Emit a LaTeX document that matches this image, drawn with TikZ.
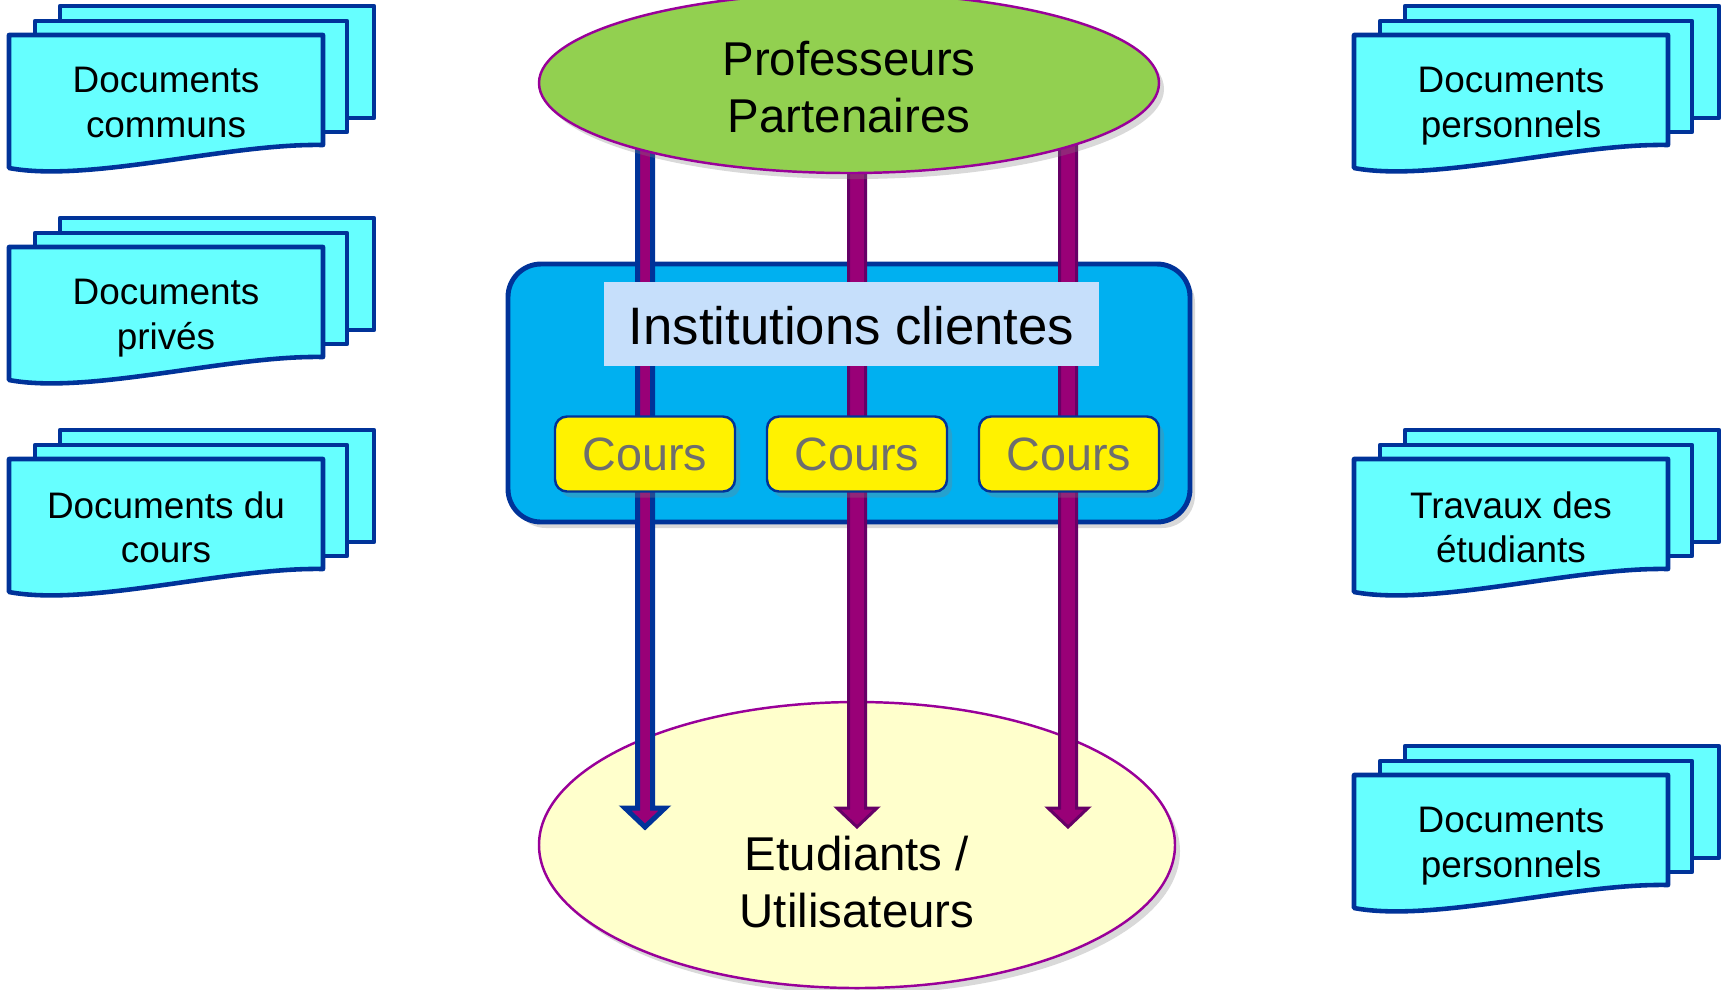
\documentclass[tikz,border=0pt]{standalone}
\usepackage{fontspec}
\setmainfont{Liberation Sans}
\usetikzlibrary{shapes.geometric,positioning,calc,shadows}

\definecolor{docfill}{HTML}{66FFFF}
\definecolor{bleufonce}{HTML}{003399}
\definecolor{vertprof}{HTML}{92D050}
\definecolor{bordviolet}{HTML}{990099}
\definecolor{bleuinst}{HTML}{00B0F0}
\definecolor{bleuclair}{HTML}{C6DFFB}
\definecolor{jauneclair}{HTML}{FFFFCC}
\definecolor{griscours}{HTML}{6E6E6E}
\definecolor{flechefill}{HTML}{990077}
\definecolor{flechebord}{HTML}{660066}

\tikzset{
  page/.style={draw=bleufonce, fill=docfill, line width=1.3pt, line join=round},
  doctext/.style={font=\fontsize{10.5}{12.6}\selectfont, align=center, anchor=north},
  ombre/.style={drop shadow={shadow xshift=0.05cm, shadow yshift=-0.06cm, opacity=0.3}},
  groupe/.style={ellipse, draw=bordviolet, line width=0.7pt, ombre, inner sep=0pt},
  grostexte/.style={font=\fontsize{13.5}{16.2}\selectfont, align=center},
  cours/.style={rectangle, rounded corners=0.12cm, draw=bleufonce, line width=0.7pt,
    fill=yellow, ombre, text=griscours, minimum width=1.80cm, minimum height=0.75cm,
    font=\fontsize{13.3}{16}\selectfont},
  fleche/.style={to path={($(\tikztostart)+(-#1,0)$) -- ($(\tikztotarget)+(-#1,0.19)$)
    -- ($(\tikztotarget)+(-0.2,0.19)$) -- (\tikztotarget) -- ($(\tikztotarget)+(0.2,0.19)$)
    -- ($(\tikztotarget)+(#1,0.19)$) -- ($(\tikztostart)+(#1,0)$) -- cycle}}
}

% pile de documents : nom, x, y (coin haut gauche de la page avant), texte
\newcommand{\pilesdoc}[4]{%
  \draw[page] (#2+0.51,#3+0.29) rectangle (#2+3.65,#3-0.83);
  \draw[page] (#2+0.26,#3+0.14) rectangle (#2+3.38,#3-0.97);
  \draw[page] (#2,#3) -- (#2+3.14,#3) -- (#2+3.14,#3-1.10)
    .. controls (#2+2.2,#3-1.08) and (#2+0.8,#3-1.48) .. (#2,#3-1.33) -- cycle;
  \node[doctext] (#1) at (#2+1.57,#3-0.20) {#4};
}

\begin{document}
\begin{tikzpicture}[node distance=2.12cm, on grid]
  \useasboundingbox (0,0) rectangle (17.29,-9.89);

  % documents
  \pilesdoc{communs}{0.09}{-0.35}{Documents\\communs}
  \pilesdoc{prives}{0.09}{-2.47}{Documents\\privés}
  \pilesdoc{docours}{0.09}{-4.59}{Documents du\\cours}
  \pilesdoc{perso1}{13.54}{-0.35}{Documents\\personnels}
  \pilesdoc{travaux}{13.54}{-4.59}{Travaux des\\étudiants}
  \pilesdoc{perso2}{13.54}{-7.75}{Documents\\personnels}

  % etudiants
  \node[groupe, fill=jauneclair, minimum width=6.36cm, minimum height=2.86cm] (etud) at (8.57,-8.45) {};
  \node[grostexte] (etudtxt) at (8.57,-8.82) {Etudiants /\\Utilisateurs};

  % institutions
  \node[rectangle, rounded corners=0.33cm, draw=bleufonce, line width=1.4pt, fill=bleuinst, ombre,
    minimum width=6.82cm, minimum height=2.58cm] (inst) at (8.49,-3.93) {};

  \coordinate (h1) at (6.45,-1.0);
  \coordinate (h2) at (8.57,-1.0);
  \coordinate (h3) at (10.68,-1.0);
  \coordinate (b1) at (6.45,-8.27);
  \coordinate (b2) at (8.57,-8.27);
  \coordinate (b3) at (10.68,-8.27);

  \draw[fill=flechefill, draw=bleufonce, line width=0.05cm, line join=miter] (h1) to[fleche=0.075] (b1);
  \draw[fill=flechefill, draw=flechebord, line width=0.03cm, line join=miter] (h2) to[fleche=0.085] (b2);
  \draw[fill=flechefill, draw=flechebord, line width=0.03cm, line join=miter] (h3) to[fleche=0.085] (b3);

  \node[rectangle, fill=bleuclair, minimum width=4.95cm, minimum height=0.84cm] (clientes) at (8.515,-3.24) {};
  \node[font=\fontsize{15}{18}\selectfont] (clientestxt) at (8.515,-3.26) {Institutions clientes};

  \node[cours] (c1) at (6.45,-4.54) {Cours};
  \node[cours, right=of c1] (c2) {Cours};
  \node[cours, right=of c2] (c3) {Cours};

  % professeurs
  \node[groupe, fill=vertprof, minimum width=6.20cm, minimum height=1.80cm] (prof) at (8.49,-0.83) {};
  \node[grostexte] (proftxt) at (8.49,-0.87) {Professeurs\\Partenaires};
\end{tikzpicture}
\end{document}
